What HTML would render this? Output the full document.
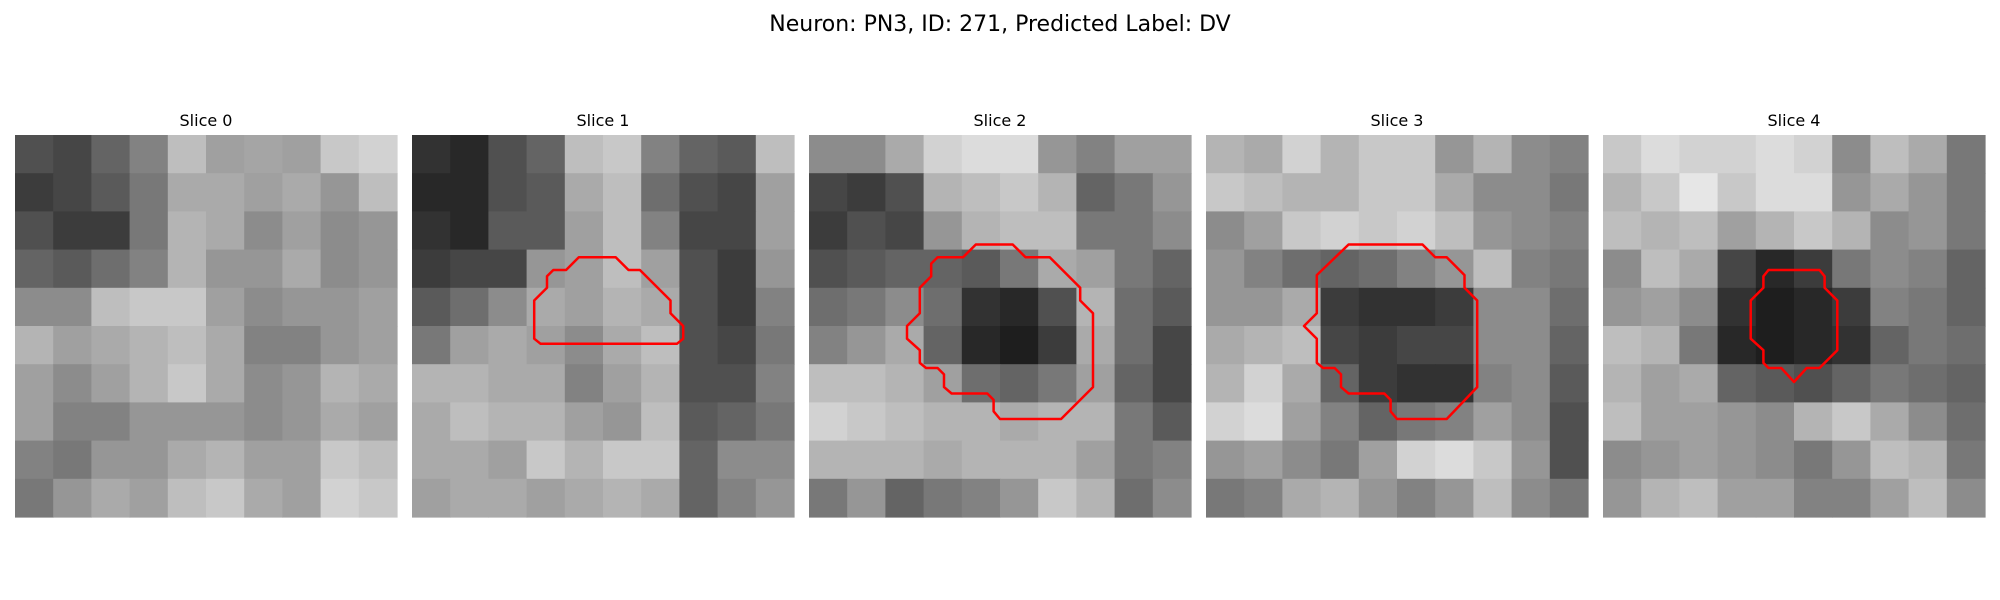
<!DOCTYPE html>
<html><head><meta charset="utf-8"><style>
html,body{margin:0;padding:0;background:#fff;}
svg{display:block;}
</style></head><body>
<svg id="fig" width="2000" height="600" viewBox="0 0 2000 600" xmlns="http://www.w3.org/2000/svg">
<text x="1000" y="31" text-anchor="middle" font-family="DejaVu Sans, Liberation Sans, sans-serif" font-size="22" fill="#000">Neuron: PN3, ID: 271, Predicted Label: DV</text>
</svg>
<script>
const sliceLabels = ["Slice 0","Slice 1","Slice 2","Slice 3","Slice 4"];
const slice0 = [
[80,70,100,130,190,160,165,160,200,210],
[60,70,90,120,170,170,160,170,150,190],
[80,60,60,120,180,170,140,160,140,150],
[100,90,110,130,180,150,150,170,140,150],
[140,140,190,200,200,160,140,150,150,160],
[180,160,170,180,190,170,130,130,150,160],
[160,140,160,180,200,170,140,150,180,170],
[160,130,130,150,150,150,140,150,170,160],
[130,120,150,150,170,180,160,160,200,190],
[120,150,170,160,190,200,170,160,210,200]];
const slice1 = [
[50,40,80,100,190,200,130,100,90,190],
[40,40,80,90,170,190,110,80,70,160],
[50,40,90,90,160,190,130,70,70,160],
[60,70,70,150,160,190,160,80,60,150],
[90,110,140,170,160,180,170,80,60,130],
[120,160,170,160,140,170,190,80,70,120],
[180,180,170,170,130,160,180,80,80,130],
[170,190,180,180,160,150,190,90,100,120],
[170,170,160,200,180,200,200,100,140,140],
[160,170,170,160,170,180,170,100,130,150]];
const slice2 = [
[140,140,170,210,220,220,150,130,160,160],
[70,60,80,180,190,200,180,100,120,150],
[60,80,70,150,180,190,190,120,120,140],
[80,90,100,100,90,120,170,160,120,100],
[110,120,140,110,50,40,80,180,110,90],
[130,150,170,100,40,30,60,170,110,70],
[190,190,180,160,110,100,120,160,100,70],
[210,200,190,180,180,170,180,180,120,90],
[180,180,180,170,180,180,180,160,120,130],
[120,150,100,120,130,150,200,180,110,140]];
const slice3 = [
[180,170,210,180,200,200,150,180,140,130],
[200,190,180,180,200,200,170,140,140,120],
[140,160,200,210,200,210,190,150,140,130],
[150,130,110,100,110,130,150,190,130,120],
[150,150,170,60,50,50,60,140,140,110],
[170,180,190,70,60,70,70,140,140,100],
[180,210,170,100,60,50,50,130,140,90],
[210,220,160,130,100,120,130,160,140,80],
[150,160,140,120,160,210,220,200,150,80],
[120,130,170,180,150,130,150,190,140,120]];
const slice4 = [
[200,220,210,210,220,210,140,190,170,120],
[180,200,230,200,220,220,150,170,150,120],
[190,180,190,160,180,200,180,140,150,120],
[140,190,170,70,40,60,120,140,130,100],
[150,160,140,50,30,40,60,130,120,100],
[190,180,120,40,30,40,50,100,120,110],
[180,160,170,100,90,80,100,120,110,100],
[190,160,160,150,140,180,200,170,140,110],
[140,150,160,150,140,120,150,190,180,120],
[150,180,190,160,160,130,130,160,190,140]];
const contour1 = [[13.1,9.6],[16,9.6],[17,10.6],[17.9,10.6],[20.3,13],[20.3,14],[21.3,15],[21.3,16],[20.8,16.4],[10.1,16.4],[9.6,16],[9.6,13],[10.6,12],[10.6,11.1],[11.1,10.6],[12.1,10.6]];
const contour2 = [[13.1,8.6],[16,8.6],[17,9.6],[18.9,9.6],[21.3,12],[21.3,13],[22.3,14],[22.3,19.8],[19.8,22.3],[15,22.3],[14.5,21.7],[14.5,20.8],[14,20.3],[11.2,20.3],[10.6,19.8],[10.6,18.8],[10.1,18.3],[9.2,18.3],[8.7,17.9],[8.7,16.9],[7.7,16],[7.7,15],[8.7,14],[8.7,12],[9.6,11.1],[9.6,10.1],[10.1,9.6],[12.1,9.6]];
const contour3 = [[11.2,8.6],[17,8.6],[18,9.6],[18.9,9.6],[20.3,11],[20.3,12],[21.3,13],[21.3,19.8],[18.9,22.3],[15,22.3],[14.5,21.7],[14.5,20.8],[14,20.3],[11.2,20.3],[10.6,19.8],[10.6,18.8],[10.1,18.3],[9.2,18.3],[8.7,17.9],[8.7,16],[7.7,15],[8.7,14],[8.7,11]];
const contour4 = [[13,10.6],[17,10.6],[17.4,11.1],[17.4,12],[18.4,13],[18.4,16.9],[17,18.3],[16,18.3],[15,19.4],[14,18.3],[13,18.3],[12.6,17.9],[12.6,16.9],[11.6,16],[11.6,13],[12.6,12],[12.6,11.1]];

const slices = [slice0, slice1, slice2, slice3, slice4];
const contours = [null, contour1, contour2, contour3, contour4];
const NS = "http://www.w3.org/2000/svg";
const svg = document.getElementById('fig');
const panelLeft = i => 15 + i * 397;
const panelTop = 135, panelSize = 382, imgPx = 30;
const sx = (i, v) => panelLeft(i) + v * panelSize / imgPx;
const sy = v => panelTop + v * panelSize / imgPx;

slices.forEach((grid, i) => {
  const g = document.createElementNS(NS, 'g');
  
  
  svg.appendChild(g);
  const n = grid.length;
  const cell = panelSize / n;
  grid.forEach((row, r) => row.forEach((v, c) => {
    const rect = document.createElementNS(NS, 'rect');
    
    
    rect.setAttribute('x', (panelLeft(i) + c * cell).toFixed(2));
    rect.setAttribute('y', (panelTop + r * cell).toFixed(2));
    rect.setAttribute('width', (cell + 0.6).toFixed(2));
    rect.setAttribute('height', (cell + 0.6).toFixed(2));
    rect.setAttribute('fill', `rgb(${v},${v},${v})`);
    g.appendChild(rect);
  }));
  const t = document.createElementNS(NS, 'text');
  
  
  t.setAttribute('x', panelLeft(i) + panelSize / 2);
  t.setAttribute('y', 126);
  t.setAttribute('text-anchor', 'middle');
  t.setAttribute('font-family', 'DejaVu Sans, Liberation Sans, sans-serif');
  t.setAttribute('font-size', '16');
  t.textContent = sliceLabels[i];
  svg.appendChild(t);
  const cont = contours[i];
  if (cont) {
    const p = document.createElementNS(NS, 'polygon');
    
    
    p.setAttribute('points', cont.map(q => sx(i, q[0]).toFixed(1) + ',' + sy(q[1]).toFixed(1)).join(' '));
    p.setAttribute('fill', 'none');
    p.setAttribute('stroke', '#ff0000');
    p.setAttribute('stroke-width', '2.5');
    p.setAttribute('stroke-linejoin', 'round');
    svg.appendChild(p);
  }
});
</script>
</body></html>
